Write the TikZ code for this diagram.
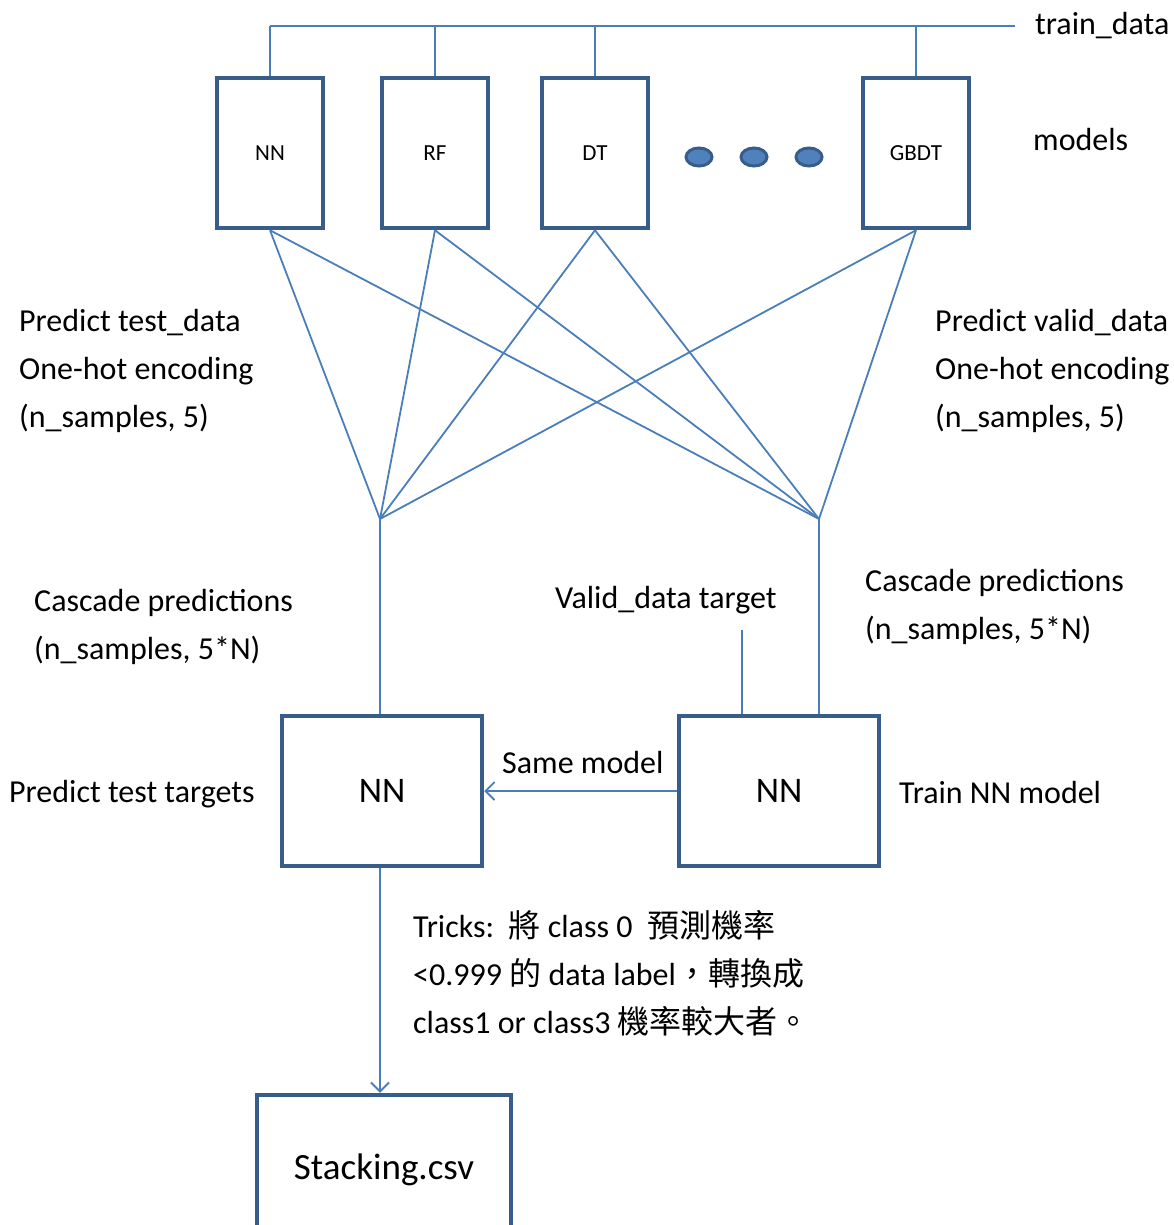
\documentclass[tikz,border=0pt]{standalone}
\usepackage{fontspec}
\setmainfont{Carlito}
\newfontfamily\cjk{Noto Sans CJK TC}
\usetikzlibrary{arrows.meta,shapes.geometric}
\definecolor{linkblue}{HTML}{4A7EBB}
\definecolor{boxblue}{HTML}{385D8A}
\definecolor{dotblue}{HTML}{4F81BD}

\begin{document}
\begin{tikzpicture}
  [x=1pt, y=-1pt,
  model/.style={draw=boxblue, line width=4.5pt, minimum width=106pt, minimum height=150pt,
    font=\fontsize{23}{27}\selectfont},
  bigbox/.style={draw=boxblue, line width=4.5pt, minimum width=200pt, minimum height=150pt,
    font=\fontsize{36}{42}\selectfont},
  dot/.style={ellipse, draw=boxblue, fill=dotblue, line width=3pt,
    minimum width=26pt, minimum height=18pt, inner sep=0pt},
  lbl/.style={font=\fontsize{32}{48}\selectfont, align=left, inner sep=0pt, anchor=west},
  link/.style={draw=linkblue, line width=1.8pt},
  arr/.style={link, -{Straight Barb[length=9pt, width=18pt, line width=1.8pt]}}]
  \useasboundingbox (0,0) rectangle (1174,1225);

  % base models
  \node[model] (nn) at (270,153) {NN};
  \node[model] (rf) at (435,153) {RF};
  \node[model] (dt) at (595,153) {DT};
  \node[model] (gbdt) at (916,153) {GBDT};
  \foreach \i/\x in {1/699,2/754,3/809}
    \node[dot] (dot\i) at (\x,157) {};

  % train data bus
  \coordinate (trainend) at (1015,26);
  \draw[link] (nn.north |- trainend) -- (trainend);
  \foreach \m in {nn,rf,dt,gbdt}
    \draw[link] (\m.north |- trainend) -- (\m.north);
  \node[lbl] (traintext) at (1035,26) {train\_data};
  \node[lbl] (modeltext) at (1033,140) {models};

  % predictions
  \coordinate (testjoin) at (380,519);
  \coordinate (validjoin) at (819,519);
  \foreach \m in {nn,rf,dt,gbdt} {
    \draw[link] (\m.south) -- (testjoin);
    \draw[link] (\m.south) -- (validjoin);
  }
  \node[lbl] (testtext) at (19,371) {Predict test\_data\\One-hot encoding\\(n\_samples, 5)};
  \node[lbl] (validtext) at (935,371) {Predict valid\_data\\One-hot encoding\\(n\_samples, 5)};

  % second level
  \node[bigbox] (nnpred) at (382,791) {NN};
  \node[bigbox] (nntrain) at (779,791) {NN};
  \draw[link] (testjoin) -- (testjoin |- nnpred.north);
  \draw[link] (validjoin) -- (validjoin |- nntrain.north);
  \coordinate (target) at (742,630);
  \draw[link] (target) -- (target |- nntrain.north);
  \draw[arr] (nntrain.west) -- (nnpred.east);
  \node[lbl] (cascleft) at (34,627) {Cascade predictions\\(n\_samples, 5*N)};
  \node[lbl] (cascright) at (865,607) {Cascade predictions\\(n\_samples, 5*N)};
  \node[lbl] (targettext) at (555,600) {Valid\_data target};
  \node[lbl] (predtext) at (9,794) {Predict test targets};
  \node[lbl] (sametext) at (502,762) {Same model};
  \node[lbl] (traintext2) at (899,792) {Train NN model};

  % output
  \node[bigbox, minimum width=254pt, font=\fontsize{37}{44}\selectfont] (stack) at (384,1170) {Stacking.csv};
  \draw[arr] (nnpred.south -| testjoin) -- (stack.north -| testjoin);
  \node[lbl] (tricks) at (413,973) {Tricks:~~{\cjk 將} class 0~~{\cjk 預測機率}\\
    <0.999 {\cjk 的} data label{\cjk ，轉換成}\\
    class1 or class3 {\cjk 機率較大者。}};
\end{tikzpicture}
\end{document}
